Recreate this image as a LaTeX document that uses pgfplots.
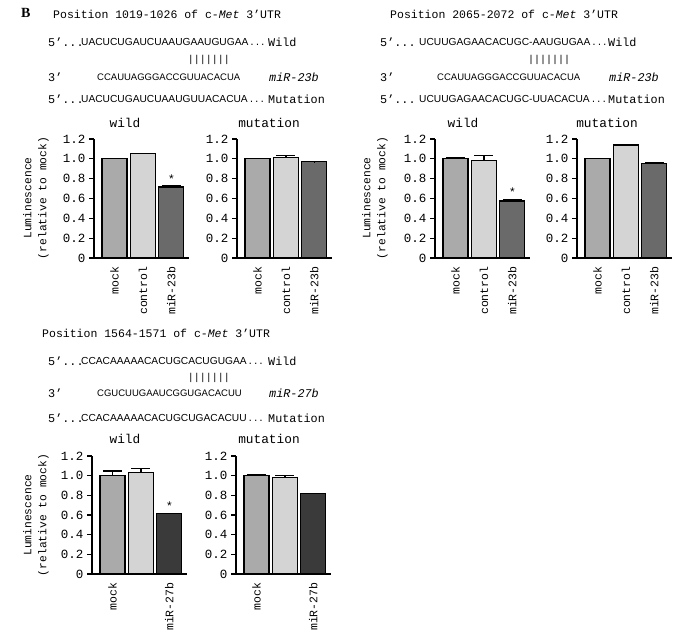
\documentclass[border=0pt]{standalone}
\usepackage{pgfplots}
\pgfplotsset{compat=1.18}
\usepackage{fontspec}
\setmainfont{Liberation Serif}
\setsansfont{Liberation Sans}
\setmonofont{Liberation Mono}
\definecolor{cmock}{RGB}{170,170,170}
\definecolor{cctrl}{RGB}{212,212,212}
\definecolor{cmir}{RGB}{106,106,106}
\definecolor{cmirb}{RGB}{58,58,58}
\newcommand{\cf}[1]{\fontsize{#1}{#1}\selectfont}
\newcommand{\monf}{\ttfamily\fontsize{11.8}{12}\selectfont}
\newcommand{\seqf}{\sffamily\fontsize{10.2}{12}\selectfont}
\newcommand{\seqg}{\sffamily\fontsize{9.5}{12}\selectfont}
\newcommand{\dts}{{\ttfamily\fontsize{9}{9}\selectfont...}}
\pgfplotsset{
  lucbar/.style={
    scale only axis, width=95pt, height=119pt,
    xmin=-0.72, xmax=2.62, ymin=0, ymax=1.2,
    axis x line*=bottom, axis y line*=left,
    axis line style={line width=1.2pt, black},
    ytick={0,0.2,0.4,0.6,0.8,1.0,1.2},
    yticklabels={0,0.2,0.4,0.6,0.8,1.0,1.2},
    tick align=outside, major tick length=5pt,
    ytick style={line width=1.2pt, black},
    xtick={0,1,2}, xtick style={draw=none},
    xticklabel style={rotate=90, anchor=east, font=\ttfamily\cf{11.5}},
    yticklabel style={font=\ttfamily\cf{12.5}},
    ybar, bar width=25pt, clip=false,
    every axis plot/.append style={bar shift=0pt, draw=black, line width=1.2pt,
      error bars/y dir=plus, error bars/y explicit,
      error bars/error bar style={line width=1.2pt, black},
      error bars/error mark options={rotate=90, line width=1.2pt, mark size=9.5pt, black}},
  }
}
\begin{document}
\begin{tikzpicture}
\path[use as bounding box, fill=white] (0,0) rectangle (677pt,-631pt);

% ---------- texts top-left
\node[anchor=west, inner sep=0] at (21pt,-13pt) {\rmfamily\bfseries\cf{14}B};
\node[anchor=west, inner sep=0] at (53pt,-14pt) {\ttfamily\cf{11.5}Position 1019-1026 of c-\textit{Met} 3’UTR};
\node[anchor=west, inner sep=0] at (48pt,-42pt) {\monf 5’...};
\node[anchor=west, inner sep=0] at (81pt,-42pt) {\seqf UACUCUGAUCUAAUGAAUGUGAA\kern1pt\dts};
\node[anchor=west, inner sep=0] at (268pt,-42pt) {\monf Wild};
\node[inner sep=0] at (209pt,-60pt) {\ttfamily\cf{10}|||||||};
\node[anchor=west, inner sep=0] at (48pt,-77pt) {\monf 3’};
\node[anchor=west, inner sep=0] at (97pt,-77pt) {\seqg CCAUUAGGGACCGUUACACUA};
\node[anchor=west, inner sep=0] at (269pt,-77pt) {\monf\itshape miR-23b};
\node[anchor=west, inner sep=0] at (48pt,-99pt) {\monf 5’...};
\node[anchor=west, inner sep=0] at (81pt,-99pt) {\seqf UACUCUGAUCUAAUGUUACACUA\kern1pt\dts};
\node[anchor=west, inner sep=0] at (268pt,-99pt) {\monf Mutation};

% ---------- texts top-right
\node[anchor=west, inner sep=0] at (390pt,-14pt) {\ttfamily\cf{11.5}Position 2065-2072 of c-\textit{Met} 3’UTR};
\node[anchor=west, inner sep=0] at (380pt,-42pt) {\monf 5’...};
\node[anchor=west, inner sep=0] at (419pt,-42pt) {\seqf UCUUGAGAACACUGC-AAUGUGAA\kern1pt\dts};
\node[anchor=west, inner sep=0] at (608pt,-42pt) {\monf Wild};
\node[inner sep=0] at (549pt,-60pt) {\ttfamily\cf{10}|||||||};
\node[anchor=west, inner sep=0] at (380pt,-77pt) {\monf 3’};
\node[anchor=west, inner sep=0] at (437pt,-77pt) {\seqg CCAUUAGGGACCGUUACACUA};
\node[anchor=west, inner sep=0] at (609pt,-77pt) {\monf\itshape miR-23b};
\node[anchor=west, inner sep=0] at (380pt,-99pt) {\monf 5’...};
\node[anchor=west, inner sep=0] at (419pt,-99pt) {\seqf UCUUGAGAACACUGC-UUACACUA\kern1pt\dts};
\node[anchor=west, inner sep=0] at (608pt,-99pt) {\monf Mutation};

% ---------- texts bottom
\node[anchor=west, inner sep=0] at (42pt,-333pt) {\ttfamily\cf{11.5}Position 1564-1571 of c-\textit{Met} 3’UTR};
\node[anchor=west, inner sep=0] at (48pt,-361pt) {\monf 5’...};
\node[anchor=west, inner sep=0] at (81pt,-361pt) {\seqf CCACAAAAACACUGCACUGUGAA\kern1pt\dts};
\node[anchor=west, inner sep=0] at (268pt,-361pt) {\monf Wild};
\node[inner sep=0] at (209pt,-378pt) {\ttfamily\cf{10}|||||||};
\node[anchor=west, inner sep=0] at (48pt,-393pt) {\monf 3’};
\node[anchor=west, inner sep=0] at (97pt,-393pt) {\seqg CGUCUUGAAUCGGUGACACUU};
\node[anchor=west, inner sep=0] at (269pt,-393pt) {\monf\itshape miR-27b};
\node[anchor=west, inner sep=0] at (48pt,-418pt) {\monf 5’...};
\node[anchor=west, inner sep=0] at (81pt,-418pt) {\seqf CCACAAAAACACUGCUGACACUU\kern1pt\dts};
\node[anchor=west, inner sep=0] at (268pt,-418pt) {\monf Mutation};

% ---------- panel titles and y labels
\node at (125pt,-123pt) {\ttfamily\cf{12.8}wild};
\node at (269pt,-123pt) {\ttfamily\cf{12.8}mutation};
\node at (463pt,-123pt) {\ttfamily\cf{12.8}wild};
\node at (607pt,-123pt) {\ttfamily\cf{12.8}mutation};
\node at (125pt,-439pt) {\ttfamily\cf{12.8}wild};
\node at (269pt,-439pt) {\ttfamily\cf{12.8}mutation};
\node[rotate=90, align=center, font=\ttfamily\fontsize{11.3}{15}\selectfont] at (36pt,-198pt) {Luminescence\\(relative to mock)};
\node[rotate=90, align=center, font=\ttfamily\fontsize{11.3}{15}\selectfont] at (375pt,-198pt) {Luminescence\\(relative to mock)};
\node[rotate=90, align=center, font=\ttfamily\fontsize{11.3}{15}\selectfont] at (36pt,-515pt) {Luminescence\\(relative to mock)};

% ---------- top-left wild
\begin{axis}[lucbar, at={(94pt,-258pt)}, anchor=south west, xticklabels={mock,control,miR-23b}]
\addplot[fill=cmock] coordinates {(0,1.00) +- (0,0.004)};
\addplot[fill=cctrl] coordinates {(1,1.05) +- (0,0.004)};
\addplot[fill=cmir] coordinates {(2,0.716) +- (0,0.012)};
\node[font=\ttfamily\cf{12}] at (axis cs:2,0.80) {*};
\end{axis}
% ---------- top-left mutation
\begin{axis}[lucbar, at={(237pt,-258pt)}, anchor=south west, xticklabels={mock,control,miR-23b}]
\addplot[fill=cmock] coordinates {(0,1.00) +- (0,0.004)};
\addplot[fill=cctrl] coordinates {(1,1.01) +- (0,0.02)};
\addplot[fill=cmir] coordinates {(2,0.97) +- (0,0.003)};
\end{axis}
% ---------- top-right wild
\begin{axis}[lucbar, at={(435pt,-258pt)}, anchor=south west, xticklabels={mock,control,miR-23b}]
\addplot[fill=cmock] coordinates {(0,1.00) +- (0,0.008)};
\addplot[fill=cctrl] coordinates {(1,0.98) +- (0,0.057)};
\addplot[fill=cmir] coordinates {(2,0.575) +- (0,0.01)};
\node[font=\ttfamily\cf{12}] at (axis cs:2,0.66) {*};
\end{axis}
% ---------- top-right mutation
\begin{axis}[lucbar, at={(577pt,-258pt)}, anchor=south west, xticklabels={mock,control,miR-23b}]
\addplot[fill=cmock] coordinates {(0,1.00) +- (0,0.004)};
\addplot[fill=cctrl] coordinates {(1,1.14) +- (0,0.0)};
\addplot[fill=cmir] coordinates {(2,0.955) +- (0,0.008)};
\end{axis}
% ---------- bottom wild
\begin{axis}[lucbar, height=118pt, at={(92pt,-574pt)}, anchor=south west, xticklabels={mock,,miR-27b}]
\addplot[fill=cmock] coordinates {(0,1.00) +- (0,0.048)};
\addplot[fill=cctrl] coordinates {(1,1.03) +- (0,0.04)};
\addplot[fill=cmirb] coordinates {(2,0.615) +- (0,0.003)};
\node[font=\ttfamily\cf{12}] at (axis cs:2,0.69) {*};
\end{axis}
% ---------- bottom mutation
\begin{axis}[lucbar, height=118pt, at={(236pt,-574pt)}, anchor=south west, xticklabels={mock,,miR-27b}]
\addplot[fill=cmock] coordinates {(0,1.00) +- (0,0.01)};
\addplot[fill=cctrl] coordinates {(1,0.98) +- (0,0.02)};
\addplot[fill=cmirb] coordinates {(2,0.815) +- (0,0.0)};
\end{axis}
\end{tikzpicture}
\end{document}
